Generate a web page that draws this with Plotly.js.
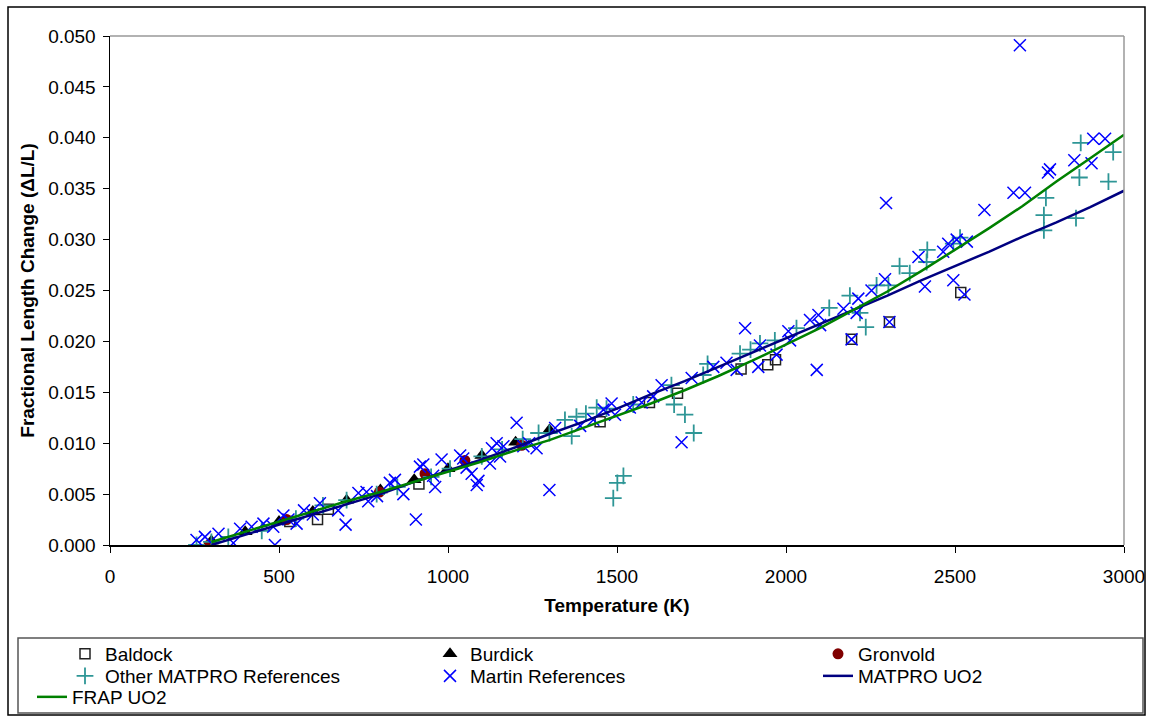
<!DOCTYPE html>
<html>
<head>
<meta charset="utf-8">
<script src="https://cdn.plot.ly/plotly-3.0.1.min.js"></script>
<style>html,body{margin:0;padding:0;background:#fff;}#chart{width:1149px;height:716px;}</style>
</head>
<body>
<div id="chart"></div>
<script>
// ---- Data ----
const baldockT = [532, 614, 646, 914, 1450, 1596, 1679, 1867, 1946, 1969, 2194, 2306, 2517];
const baldockV = [0.0023, 0.0025, 0.0035, 0.0060, 0.0121, 0.0140, 0.0149, 0.0173, 0.0177, 0.0182, 0.0202, 0.0219, 0.0248];

const burdickT = [300, 400, 500, 600, 700, 800, 900, 1000, 1100, 1200, 1300];
const burdickV = [0.0004, 0.0013, 0.0023, 0.0033, 0.0044, 0.0054, 0.0064, 0.0075, 0.0088, 0.0101, 0.0113];

const gronvoldT = [293, 523, 797, 932, 1050, 1218];
const gronvoldV = [0.0000, 0.0025, 0.0052, 0.0070, 0.0083, 0.0098];

const otherT = [256, 300, 350, 449, 550, 630, 700, 789, 850, 950, 1006, 1100, 1160, 1221, 1268, 1300, 1346, 1366, 1380, 1408, 1440, 1469, 1489, 1501, 1519, 1548, 1661, 1669, 1701, 1727, 1755, 1768, 1864, 1895, 1923, 1967, 2031, 2128, 2189, 2219, 2236, 2268, 2303, 2336, 2366, 2416, 2418, 2495, 2515, 2763, 2763, 2769, 2858, 2868, 2872, 2954, 2968];
const otherV = [0.0000, 0.0003, 0.0008, 0.0014, 0.0026, 0.0039, 0.0044, 0.0050, 0.0057, 0.0067, 0.0075, 0.0087, 0.0094, 0.0104, 0.0110, 0.0110, 0.0123, 0.0107, 0.0126, 0.0129, 0.0135, 0.0134, 0.0046, 0.0061, 0.0068, 0.0138, 0.0157, 0.0138, 0.0128, 0.0110, 0.0167, 0.0178, 0.0188, 0.0192, 0.0198, 0.0201, 0.0213, 0.0233, 0.0245, 0.0228, 0.0214, 0.0255, 0.0255, 0.0274, 0.0267, 0.0278, 0.0290, 0.0296, 0.0302, 0.0309, 0.0324, 0.0341, 0.0321, 0.0361, 0.0395, 0.0357, 0.0386];

const martinT = [256, 281, 321, 365, 385, 419, 454, 483, 488, 513, 528, 552, 574, 600, 621, 675, 697, 735, 759, 764, 790, 828, 843, 868, 905, 917, 927, 956, 962, 981, 1036, 1045, 1055, 1070, 1085, 1090, 1124, 1130, 1144, 1154, 1164, 1203, 1223, 1240, 1262, 1300, 1317, 1391, 1430, 1460, 1484, 1494, 1538, 1573, 1607, 1632, 1691, 1721, 1785, 1824, 1854, 1879, 1918, 1923, 1972, 2007, 2012, 2071, 2091, 2096, 2101, 2170, 2194, 2209, 2214, 2253, 2293, 2296, 2306, 2392, 2411, 2465, 2480, 2495, 2505, 2528, 2535, 2587, 2673, 2692, 2707, 2775, 2781, 2853, 2904, 2909, 2944];
const martinV = [0.0005, 0.0008, 0.0011, 0.0002, 0.0016, 0.0018, 0.0021, 0.0018, 0.0000, 0.0029, 0.0025, 0.0021, 0.0034, 0.0030, 0.0041, 0.0034, 0.0020, 0.0051, 0.0052, 0.0043, 0.0048, 0.0061, 0.0064, 0.0050, 0.0025, 0.0077, 0.0079, 0.0068, 0.0057, 0.0084, 0.0088, 0.0085, 0.0076, 0.0070, 0.0059, 0.0063, 0.0080, 0.0095, 0.0100, 0.0087, 0.0097, 0.0120, 0.0097, 0.0100, 0.0095, 0.0054, 0.0115, 0.0117, 0.0123, 0.0133, 0.0139, 0.0128, 0.0135, 0.0140, 0.0146, 0.0157, 0.0101, 0.0164, 0.0175, 0.0179, 0.0172, 0.0213, 0.0175, 0.0196, 0.0187, 0.0210, 0.0201, 0.0221, 0.0172, 0.0226, 0.0216, 0.0232, 0.0202, 0.0228, 0.0242, 0.0250, 0.0261, 0.0336, 0.0219, 0.0283, 0.0254, 0.0288, 0.0296, 0.0260, 0.0300, 0.0246, 0.0298, 0.0329, 0.0346, 0.0491, 0.0346, 0.0366, 0.0369, 0.0378, 0.0375, 0.0399, 0.0399];

const matproT = [300, 400, 500, 600, 700, 800, 900, 1000, 1100, 1200, 1300, 1400, 1500, 1600, 1700, 1800, 1900, 2000, 2100, 2200, 2300, 2400, 2500, 2600, 2700, 2800, 2900, 3000];
const matproV = [0.0000, 0.0010, 0.0020, 0.0030, 0.0040, 0.0050, 0.0062, 0.0073, 0.0084, 0.0096, 0.0109, 0.0121, 0.0134, 0.0148, 0.0161, 0.0175, 0.0189, 0.0203, 0.0217, 0.0231, 0.0245, 0.0260, 0.0274, 0.0288, 0.0303, 0.0317, 0.0332, 0.0348];

const frapT = [300, 400, 500, 600, 700, 800, 900, 1000, 1100, 1200, 1300, 1400, 1500, 1600, 1700, 1800, 1900, 2000, 2100, 2200, 2300, 2400, 2500, 2600, 2700, 2800, 2900, 3000];
const frapV = [0.0003, 0.0013, 0.0023, 0.0033, 0.0043, 0.0052, 0.0062, 0.0072, 0.0082, 0.0093, 0.0103, 0.0115, 0.0127, 0.0139, 0.0152, 0.0166, 0.0181, 0.0197, 0.0213, 0.0231, 0.0249, 0.0269, 0.0290, 0.0311, 0.0333, 0.0357, 0.0380, 0.0403];

const xTicks = [0, 500, 1000, 1500, 2000, 2500, 3000];
const yTicks = [0.000, 0.005, 0.010, 0.015, 0.020, 0.025, 0.030, 0.035, 0.040, 0.045, 0.050];

// ---- Traces ----
const FONT = '"Liberation Sans", Arial, sans-serif';
const traces = [
  {x: baldockT, y: baldockV, name: 'Baldock', type: 'scatter', mode: 'markers', legend: 'legend',
   marker: {symbol: 'square-open', size: 10, color: '#222', line: {width: 1.5, color: '#222'}}},
  {x: burdickT, y: burdickV, name: 'Burdick', type: 'scatter', mode: 'markers', legend: 'legend2',
   marker: {symbol: 'triangle-up', size: 13, color: '#000'}},
  {x: gronvoldT, y: gronvoldV, name: 'Gronvold', type: 'scatter', mode: 'markers', legend: 'legend3',
   marker: {symbol: 'circle', size: 11, color: '#800000'}},
  {x: otherT, y: otherV, name: 'Other MATPRO References', type: 'scatter', mode: 'markers', legend: 'legend4',
   marker: {symbol: 'cross-thin-open', size: 12, color: '#2E9696', line: {width: 1.8, color: '#2E9696'}}},
  {x: martinT, y: martinV, name: 'Martin References', type: 'scatter', mode: 'markers', legend: 'legend5',
   marker: {symbol: 'x-thin-open', size: 12, color: '#0000FF', line: {width: 1.5, color: '#0000FF'}}},
  {x: matproT, y: matproV, name: 'MATPRO UO2', type: 'scatter', mode: 'lines', legend: 'legend6',
   line: {color: '#000080', width: 2.5}},
  {x: frapT, y: frapV, name: 'FRAP UO2', type: 'scatter', mode: 'lines', legend: 'legend7',
   line: {color: '#008000', width: 2.5}}
];

// pixel -> paper helpers for layout placement
const L = 110, R = 1124, T = 36, B = 545;
const px = v => (v - L) / (R - L);
const py = v => (B - v) / (B - T);

const legBase = {orientation: 'v', xanchor: 'left', yanchor: 'top', bgcolor: 'rgba(0,0,0,0)',
  borderwidth: 0, font: {family: FONT, size: 19, color: '#000'}, tracegroupgap: 0, itemclick: false};
const leg = (xText, yCenter) => Object.assign({}, legBase, {x: px(xText - 40), y: py(yCenter - 20)});

const layout = {
  width: 1149, height: 716,
  margin: {l: L, r: 1149 - R, t: T, b: 716 - B, autoexpand: false},
  paper_bgcolor: '#fff', plot_bgcolor: '#fff',
  font: {family: FONT, size: 19, color: '#000'},
  showlegend: true,
  xaxis: {
    range: [0, 3000], tickvals: xTicks, ticktext: xTicks.map(String),
    showgrid: false, zeroline: false, showline: true, linecolor: '#000', linewidth: 1.5,
    ticks: 'outside', ticklen: 6, tickcolor: '#000', tickwidth: 1, ticklabelstandoff: 8,
    tickfont: {family: FONT, size: 19, color: '#000'},
    title: {text: '<b>Temperature (K)</b>', font: {family: FONT, size: 19, color: '#000'}, standoff: 12},
    automargin: false
  },
  yaxis: {
    range: [0, 0.05], tickvals: yTicks, ticktext: yTicks.map(v => v.toFixed(3)),
    showgrid: false, zeroline: false, showline: true, linecolor: '#000', linewidth: 1.5,
    ticks: 'outside', ticklen: 6, tickcolor: '#000', tickwidth: 1, ticklabelstandoff: 3,
    tickfont: {family: FONT, size: 19, color: '#000'},
    title: {text: '<b>Fractional Length Change (ΔL/L)</b>', font: {family: FONT, size: 19, color: '#000'}, standoff: 8},
    automargin: false
  },
  legend:  leg(105, 655),
  legend2: leg(470, 655),
  legend3: leg(858, 655),
  legend4: leg(105, 677),
  legend5: leg(470, 677),
  legend6: leg(858, 677),
  legend7: leg(72, 698),
  shapes: [
    // gray top and right plot frame
    {type: 'line', xref: 'paper', yref: 'paper', x0: 0, x1: 1, y0: 1, y1: 1, line: {color: '#999', width: 1.5}},
    {type: 'line', xref: 'paper', yref: 'paper', x0: 1, x1: 1, y0: 0, y1: 1, line: {color: '#999', width: 1.5}},
    // outer chart border
    {type: 'rect', xref: 'paper', yref: 'paper', x0: px(8), x1: px(1145), y0: py(7), y1: py(715), line: {color: '#000', width: 1.5}},
    // legend box
    {type: 'rect', xref: 'paper', yref: 'paper', x0: px(18), x1: px(1143), y0: py(638), y1: py(713), line: {color: '#555', width: 1.5}}
  ]
};

Plotly.newPlot('chart', traces, layout, {staticPlot: true, displayModeBar: false});
</script>
</body>
</html>
